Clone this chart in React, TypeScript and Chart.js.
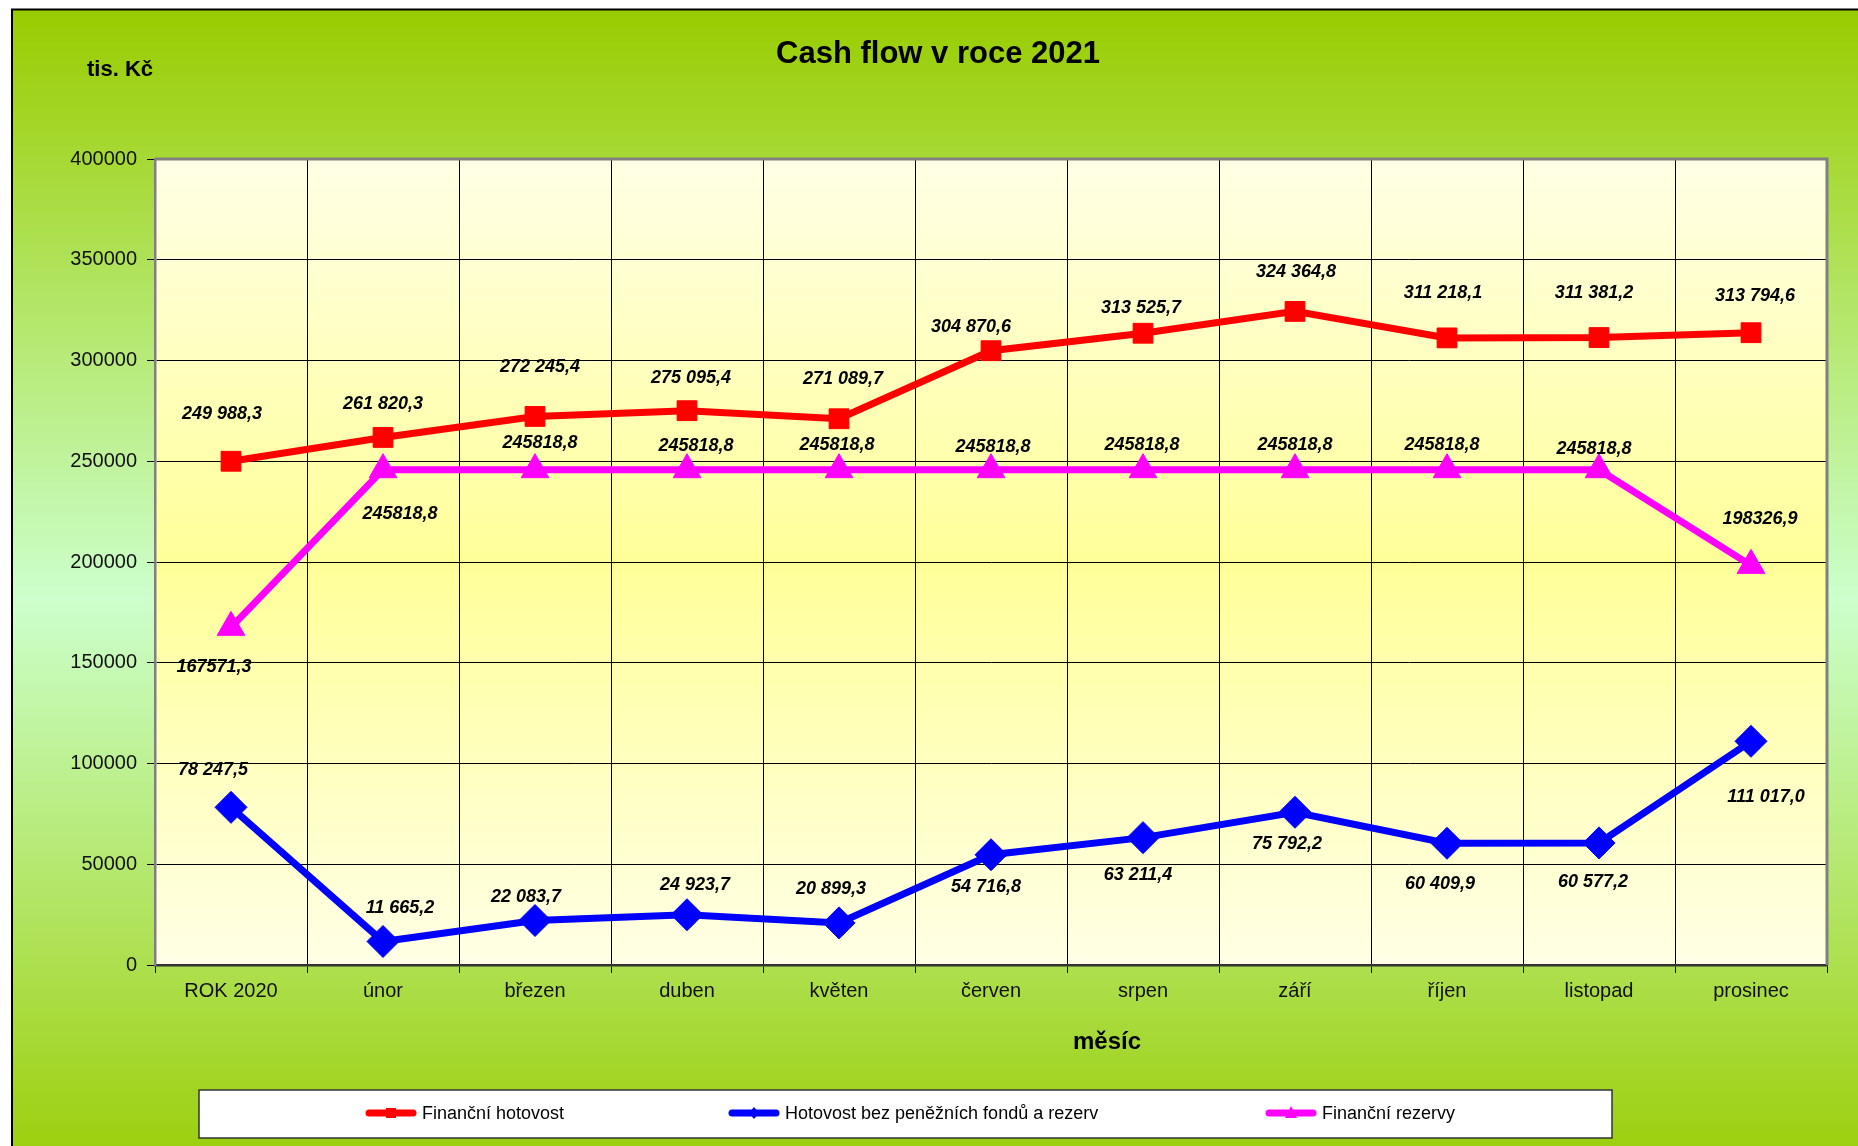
import React, { useEffect, useRef } from "react";
import { Chart, registerables } from "chart.js";

Chart.register(...registerables);

// ---------- data ----------
const categories = [
  "ROK 2020",
  "únor",
  "březen",
  "duben",
  "květen",
  "červen",
  "srpen",
  "září",
  "říjen",
  "listopad",
  "prosinec",
];

const financniHotovost = [
  249988.3, 261820.3, 272245.4, 275095.4, 271089.7, 304870.6, 313525.7,
  324364.8, 311218.1, 311381.2, 313794.6,
];

const hotovostBezFondu = [
  78247.5, 11665.2, 22083.7, 24923.7, 20899.3, 54716.8, 63211.4, 75792.2,
  60409.9, 60577.2, 111017.0,
];

const financniRezervy = [
  167571.3, 245818.8, 245818.8, 245818.8, 245818.8, 245818.8, 245818.8,
  245818.8, 245818.8, 245818.8, 198326.9,
];

const seriesNames = [
  "Finanční hotovost",
  "Hotovost bez peněžních fondů a rezerv",
  "Finanční rezervy",
];

const yMin = 0;
const yMax = 400000;
const yStep = 50000;

const titleText = "Cash flow v roce 2021";
const yUnitText = "tis. Kč";
const xTitleText = "měsíc";

// ---------- label placement (pixel offsets from each point) ----------
const redLabelDx = [-9, 0, 5, 4, 4, -20, -2, 1, -4, -5, 4];
const redLabelDy = [-47, -33, -49, -33, -40, -24, -25, -39, -45, -45, -37];
const blueLabelDx = [-18, 17, -9, 8, -8, -5, -5, -8, -7, -6, 15];
const blueLabelDy = [-37, -33, -23, -30, -34, 32, 37, 32, 41, 39, 56];
const pinkLabelDx = [-17, 17, 5, 9, -2, 2, -1, 0, -5, -5, 9];
const pinkLabelDy = [40, 44, -27, -24, -25, -23, -25, -25, -25, -21, -46];

const FONT = "'Liberation Sans', Arial, sans-serif";

const fmtSpaced = (v: number) => {
  const [i, d] = v.toFixed(1).split(".");
  return i.replace(/\B(?=(\d{3})+(?!\d))/g, " ") + "," + d;
};
const fmtPlain = (v: number) => v.toFixed(1).replace(".", ",");

const COLORS = ["#FF0000", "#0000FF", "#FF00FF"];
const STYLES = ["rect", "rectRot", "triangle"];

const backgroundPlugin = {
  id: "bgPlugin",
  beforeDraw(chart: any) {
    const { ctx, width, height, chartArea } = chart;
    ctx.save();
    ctx.fillStyle = "#FFFFFF";
    ctx.fillRect(0, 0, width, height);
    const g = ctx.createLinearGradient(0, 9, 0, 1190);
    g.addColorStop(0, "#99CC00");
    g.addColorStop(0.5, "#CCFFCC");
    g.addColorStop(1, "#99CC00");
    ctx.fillStyle = g;
    ctx.fillRect(12, 9.5, width - 12, height - 9.5);
    ctx.strokeStyle = "#000000";
    ctx.lineWidth = 2;
    ctx.beginPath();
    ctx.moveTo(12, height);
    ctx.lineTo(12, 9.5);
    ctx.lineTo(width, 9.5);
    ctx.stroke();

    const { left, top, right, bottom } = chartArea;
    const pg = ctx.createLinearGradient(0, top, 0, bottom);
    pg.addColorStop(0, "#FFFFE6");
    pg.addColorStop(0.5, "#FFFF99");
    pg.addColorStop(1, "#FFFFE6");
    ctx.fillStyle = pg;
    ctx.fillRect(left, top, right - left, bottom - top);
    ctx.restore();
  },
  beforeDatasetsDraw(chart: any) {
    const { ctx, chartArea } = chart;
    const { left, top, right, bottom } = chartArea;
    ctx.save();
    ctx.strokeStyle = "#808080";
    ctx.lineWidth = 3;
    ctx.beginPath();
    ctx.moveTo(left, top);
    ctx.lineTo(right, top);
    ctx.lineTo(right, bottom);
    ctx.stroke();
    ctx.restore();
  },
  afterDatasetsDraw(chart: any) {
    const { ctx } = chart;
    const dx = [redLabelDx, blueLabelDx, pinkLabelDx];
    const dy = [redLabelDy, blueLabelDy, pinkLabelDy];
    const fmts = [fmtSpaced, fmtSpaced, fmtPlain];
    ctx.save();
    ctx.font = `italic bold 18px ${FONT}`;
    ctx.fillStyle = "#000000";
    ctx.textAlign = "center";
    ctx.textBaseline = "middle";
    chart.data.datasets.forEach((ds: any, di: number) => {
      const meta = chart.getDatasetMeta(di);
      meta.data.forEach((pt: any, i: number) => {
        ctx.fillText(fmts[di](ds.data[i]), pt.x + dx[di][i], pt.y + dy[di][i]);
      });
    });
    ctx.restore();
  },
  afterDraw(chart: any) {
    const { ctx } = chart;
    ctx.save();
    ctx.fillStyle = "#000000";
    ctx.textBaseline = "middle";
    ctx.textAlign = "center";
    ctx.font = `bold 31px ${FONT}`;
    ctx.fillText(titleText, 938, 54);
    ctx.font = `bold 22px ${FONT}`;
    ctx.textAlign = "left";
    ctx.fillText(yUnitText, 87, 70);
    ctx.textAlign = "center";
    ctx.font = `bold 24px ${FONT}`;
    ctx.fillText(xTitleText, 1107, 1042);

    // legend box
    ctx.fillStyle = "#FFFFFF";
    ctx.fillRect(199, 1090, 1413, 48);
    ctx.strokeStyle = "#333333";
    ctx.lineWidth = 1.5;
    ctx.strokeRect(199, 1090, 1413, 48);

    const itemX = [365, 728, 1265];
    const ly = 1113;
    ctx.font = `18px ${FONT}`;
    ctx.textAlign = "left";
    seriesNames.forEach((name, i) => {
      const x0 = itemX[i];
      ctx.strokeStyle = COLORS[i];
      ctx.lineWidth = 7;
      ctx.lineCap = "round";
      ctx.beginPath();
      ctx.moveTo(x0 + 4, ly);
      ctx.lineTo(x0 + 48, ly);
      ctx.stroke();
      ctx.fillStyle = COLORS[i];
      const cx = x0 + 26;
      ctx.beginPath();
      if (i === 0) {
        ctx.rect(cx - 5, ly - 5, 10, 10);
      } else if (i === 1) {
        ctx.moveTo(cx, ly - 6);
        ctx.lineTo(cx + 5, ly);
        ctx.lineTo(cx, ly + 6);
        ctx.lineTo(cx - 5, ly);
        ctx.closePath();
      } else {
        ctx.moveTo(cx, ly - 7);
        ctx.lineTo(cx + 6, ly + 5);
        ctx.lineTo(cx - 6, ly + 5);
        ctx.closePath();
      }
      ctx.fill();
      ctx.fillStyle = "#000000";
      ctx.fillText(name, x0 + 57, ly + 1);
    });
    ctx.restore();
  },
};

export default function App() {
  const ref = useRef<HTMLCanvasElement | null>(null);

  useEffect(() => {
    document.body.style.margin = "0";
    document.body.style.overflow = "hidden";
    const canvas = ref.current;
    if (!canvas) return;
    const seriesData = [financniHotovost, hotovostBezFondu, financniRezervy];
    const chart = new Chart(canvas, {
      type: "line",
      data: {
        labels: categories,
        datasets: seriesData.map((d, i) => ({
          label: seriesNames[i],
          data: d,
          borderColor: COLORS[i],
          backgroundColor: COLORS[i],
          pointBackgroundColor: COLORS[i],
          pointBorderColor: COLORS[i],
          borderWidth: 7,
          pointStyle: STYLES[i] as any,
          pointRadius: i === 0 ? 14 : 16,
          pointBorderWidth: 1,
          tension: 0,
          fill: false,
        })),
      },
      options: {
        responsive: false,
        animation: false,
        devicePixelRatio: 1,
        layout: { padding: { top: 159, right: 31, left: 0, bottom: 0 } },
        plugins: {
          legend: { display: false },
          title: { display: false },
          tooltip: { enabled: false },
        },
        scales: {
          x: {
            offset: true,
            grid: {
              offset: true,
              color: "#000000",
              lineWidth: 1,
              drawTicks: true,
              tickLength: 8,
              tickColor: "#000000",
            },
            border: { color: "#333333", width: 2.5 },
            ticks: {
              color: "#111111",
              font: { family: FONT, size: 20 },
              padding: 6,
              maxRotation: 0,
              autoSkip: false,
            },
            afterFit: (s: any) => {
              s.height = 181;
            },
          },
          y: {
            min: yMin,
            max: yMax,
            grid: {
              color: "#000000",
              lineWidth: 1,
              drawTicks: true,
              tickLength: 8,
              tickColor: "#000000",
            },
            border: { color: "#808080", width: 2.5 },
            ticks: {
              stepSize: yStep,
              color: "#111111",
              font: { family: FONT, size: 20 },
              padding: 10,
              callback: (v: any) => String(v),
            },
            afterFit: (s: any) => {
              s.width = 155;
            },
          },
        },
      },
      plugins: [backgroundPlugin],
    });
    return () => chart.destroy();
  }, []);

  return (
    <div style={{ position: "absolute", left: 0, top: 0, width: 1858, height: 1146 }}>
      <canvas ref={ref} width={1858} height={1146} style={{ display: "block" }} />
    </div>
  );
}
